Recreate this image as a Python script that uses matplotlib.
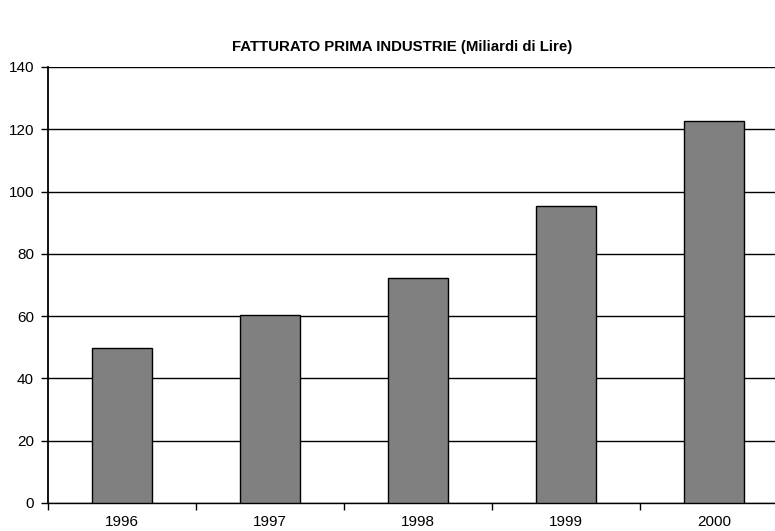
import matplotlib
matplotlib.use("Agg")
import matplotlib.pyplot as plt
import numpy as np

plt.rcParams['font.family'] = ['Liberation Sans', 'DejaVu Sans']

anni = ['1996', '1997', '1998', '1999', '2000']
fatturato = [49.8, 60.4, 72.3, 95.4, 122.7]
y_ticks = [0, 20, 40, 60, 80, 100, 120, 140]

fig = plt.figure(figsize=(7.75, 5.31), dpi=100)
ax = fig.add_axes([48 / 775, 28 / 531, 740 / 775, 436 / 531])

x = np.arange(len(anni))
ax.bar(x, fatturato, width=0.405, color='#808080', edgecolor='black', linewidth=1, zorder=3)

ax.set_xlim(-0.5, len(anni) - 0.5)
ax.set_ylim(0, 140)
ax.set_yticks(y_ticks)
ax.set_xticks(x)
ax.set_xticklabels(anni)
ax.set_xticks(np.arange(-0.5, len(anni)), minor=True)

ax.tick_params(axis='y', length=5, width=1, labelsize=11, pad=5, color='black')
ax.tick_params(axis='x', which='major', length=0, labelsize=11, pad=9)
ax.tick_params(axis='x', which='minor', length=5, width=1, color='black')

ax.yaxis.grid(True, color='black', linewidth=1, zorder=0)
ax.set_axisbelow(True)
for side in ['top', 'right']:
    ax.spines[side].set_visible(False)
ax.spines['left'].set_linewidth(1.3)
ax.spines['bottom'].set_linewidth(1)

fig.text(402 / 775, 1 - 47 / 531, 'FATTURATO PRIMA INDUSTRIE (Miliardi di Lire)',
         ha='center', va='center', fontsize=10.8, fontweight='bold')

fig.savefig('out.png', dpi=100)
